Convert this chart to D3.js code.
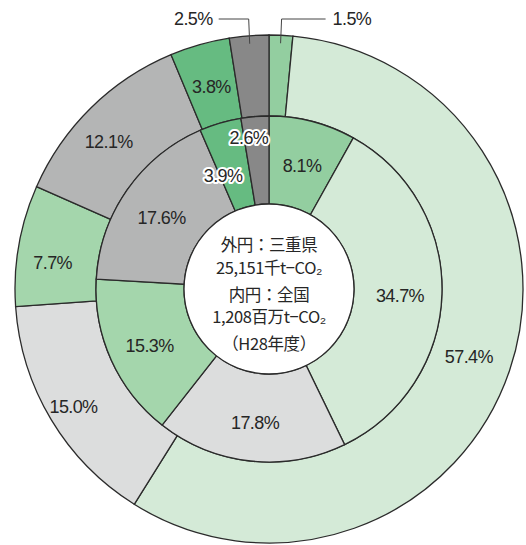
<!DOCTYPE html>
<html>
<head>
<meta charset="utf-8">
<script src="https://cdn.jsdelivr.net/npm/d3@7"></script>
<style>
  body { margin: 0; background: #fff; }
  svg { display: block; }
</style>
</head>
<body>
<svg id="donut" width="526" height="545"></svg>
<script>
// 部門（時計回り、12時から）
var categories = ["エネルギー転換部門", "産業部門", "運輸部門", "家庭部門", "業務部門", "工業プロセス", "廃棄物"];
// 外円：三重県
var outerValues = [1.5, 57.4, 15.0, 7.7, 12.1, 3.8, 2.5];
// 内円：全国
var innerValues = [8.1, 34.7, 17.8, 15.3, 17.6, 3.9, 2.6];
var colors = ["#93cea0", "#d4ead7", "#dcdddd", "#a4d6ac", "#b4b5b5", "#66bb81", "#888888"];

var centerLines = ["外円：三重県", "25,151千t−CO₂", "内円：全国", "1,208百万t−CO₂", "（H28年度）"];

function drawDonut() {
    var svg = d3.select("svg#donut");
    var cx = 269, cy = 289;
    var rOuter = 254, rMid = 173, rHole = 85;

    var g = svg.append("g").attr("transform", "translate(" + cx + "," + cy + ")");

    var pie = d3.pie().sort(null).value(d => d);
    var color = d3.scaleOrdinal().domain(categories).range(colors);

    var outerArc = d3.arc().innerRadius(rMid).outerRadius(rOuter);
    var innerArc = d3.arc().innerRadius(rHole).outerRadius(rMid);

    var outerPie = pie(outerValues);
    var innerPie = pie(innerValues);

    g.selectAll("path.outer")
        .data(outerPie)
        .enter()
        .append("path")
        .attr("class", "outer")
        .attr("d", outerArc)
        .attr("fill", (d, i) => color(categories[i]))
        .attr("stroke", "#2b2b2b")
        .attr("stroke-width", 1.3);

    g.selectAll("path.inner")
        .data(innerPie)
        .enter()
        .append("path")
        .attr("class", "inner")
        .attr("d", innerArc)
        .attr("fill", (d, i) => color(categories[i]))
        .attr("stroke", "#2b2b2b")
        .attr("stroke-width", 1.3);

    g.append("circle")
        .attr("r", rHole)
        .attr("fill", "#fff")
        .attr("stroke", "#2b2b2b")
        .attr("stroke-width", 1.3);

    function polar(angle, r) {
        return [Math.sin(angle) * r, -Math.cos(angle) * r];
    }
    function mid(d) { return (d.startAngle + d.endAngle) / 2; }

    var fmt = v => v.toFixed(1) + "%";
    var labelFont = "'Liberation Sans', Arial, sans-serif";

    function label(sel) {
        return sel
            .attr("dy", "0.36em")
            .attr("font-family", labelFont)
            .attr("font-size", "18px")
            .attr("letter-spacing", "-0.6px")
            .attr("fill", "#262626");
    }

    // 外円ラベル（小さい2つは外に引き出し線）
    outerPie.forEach(function(d, i) {
        if (d.data < 3) return;
        // 左側は少し外寄りに置く
        var a = mid(d);
        var r = a > Math.PI * 1.2 && a < Math.PI * 1.45 ? 228 : (a > Math.PI && a < Math.PI * 1.8 ? 218 : 211);
        var p = polar(a - (a > Math.PI * 1.45 && a < Math.PI * 1.8 ? 0.05 : 0), r);
        label(g.append("text"))
            .attr("x", p[0])
            .attr("y", p[1])
            .attr("text-anchor", "middle")
            .text(fmt(d.data));
    });

    outerPie.forEach(function(d, i) {
        if (d.data >= 3) return;
        var a = mid(d);
        var p = polar(a, rOuter - 8);
        var right = p[0] > 0;
        var elbowX = p[0] + (right ? 1 : -1) * 1;
        var y0 = 19 - cy;
        var endX = elbowX + (right ? 44 : -30);
        g.append("polyline")
            .attr("points", [p, [elbowX, y0], [endX, y0]].map(q => q.join(",")).join(" "))
            .attr("fill", "none")
            .attr("stroke", "#444")
            .attr("stroke-width", 1);
        label(g.append("text"))
            .attr("x", endX + (right ? 7 : -6))
            .attr("y", y0)
            .attr("text-anchor", right ? "start" : "end")
            .text(fmt(d.data));
    });

    // 内円ラベル（小さい2つは白フチ付き）
    innerPie.forEach(function(d, i) {
        var small = d.data < 5;
        var a = mid(d), r = 131;
        if (small && d.data < 3) { a -= 0.05; r = 153; }
        else if (small) { a -= 0.1; r = 122; }
        var p = polar(a, r);
        label(g.append("text"))
            .attr("x", p[0])
            .attr("y", p[1] + (small ? 0 : 3))
            .attr("text-anchor", "middle")
            .attr("stroke", small ? "#fff" : "none")
            .attr("stroke-width", small ? 4 : 0)
            .attr("stroke-linejoin", "round")
            .attr("paint-order", "stroke")
            .text(fmt(d.data));
    });

    // 中央テキスト
    var lineY = [-44, -21, 6, 28, 55];
    g.selectAll("text.center")
        .data(centerLines)
        .enter()
        .append("text")
        .attr("class", "center")
        .attr("x", 0)
        .attr("y", (d, i) => lineY[i])
        .attr("dy", "0.36em")
        .attr("text-anchor", "middle")
        .attr("font-family", "'Noto Sans CJK JP', sans-serif")
        .attr("font-size", "16.5px")
        .attr("letter-spacing", "-0.4px")
        .attr("fill", "#262626")
        .text(d => d);
}

drawDonut();
</script>
</body>
</html>
